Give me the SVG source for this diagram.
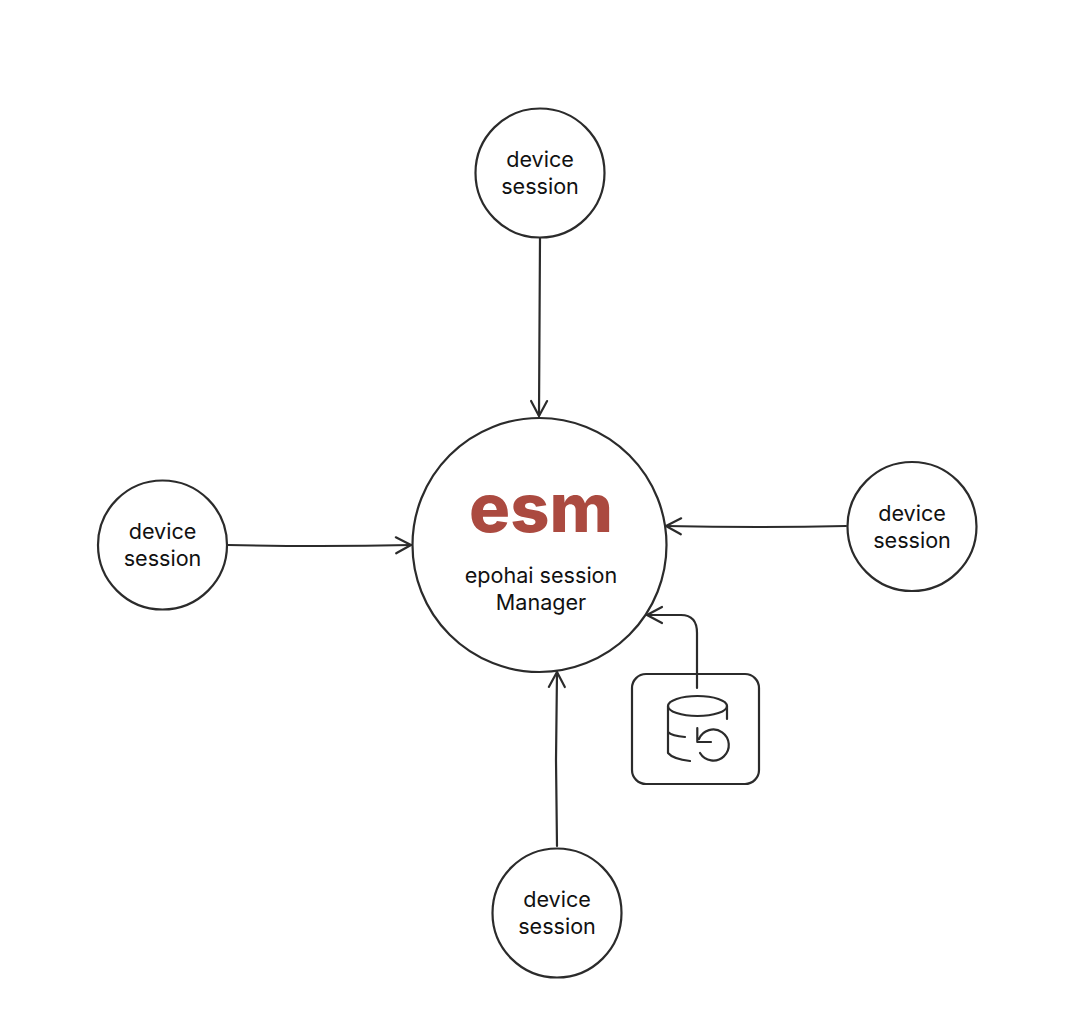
<svg xmlns="http://www.w3.org/2000/svg" width="1092" height="1016" viewBox="0 0 1092 1016">
<style>
.s{fill:none;stroke:#2b2b2b;stroke-width:2.200;stroke-linecap:round;stroke-linejoin:round}
.t{font-family:Inter,"Liberation Sans",sans-serif;font-size:21.600px;fill:#111;text-anchor:middle}
.l{font-family:Inter,"Liberation Sans",sans-serif;font-size:67px;font-weight:800;fill:#ab4a40;text-anchor:middle}
</style>
<defs>
<marker id="a" markerUnits="userSpaceOnUse" markerWidth="24" markerHeight="24" refX="18" refY="12" orient="auto">
<path d="M3 4 L18 12 L3 20" fill="none" stroke="#2b2b2b" stroke-width="2.200" stroke-linecap="round" stroke-linejoin="round"/>
</marker>
</defs>
<rect width="1092" height="1016" fill="#fff"/>
<g id="connectors">
<path class="s" marker-end="url(#a)" d="M540 238 L539 416"/>
<path class="s" marker-end="url(#a)" d="M228 545 Q320 547 411 545"/>
<path class="s" marker-end="url(#a)" d="M846 526 Q760 528 666 526"/>
<path class="s" marker-end="url(#a)" d="M557 846 L556 760 L557 672"/>
<path class="s" marker-end="url(#a)" d="M697 688 L697 633 Q697 615 681 615 L647 615"/>
</g>
<g id="node-top"><circle class="s" cx="540" cy="173" r="64.500"/><text class="t" x="540" y="167">device</text><text class="t" x="540" y="194">session</text></g>
<g id="node-left"><circle class="s" cx="162.500" cy="545" r="64.500"/><text class="t" x="162.500" y="539">device</text><text class="t" x="162.500" y="566">session</text></g>
<g id="node-right"><circle class="s" cx="912" cy="526.500" r="64.500"/><text class="t" x="912" y="521">device</text><text class="t" x="912" y="548">session</text></g>
<g id="node-bottom"><circle class="s" cx="557" cy="913" r="64.500"/><text class="t" x="557" y="907">device</text><text class="t" x="557" y="934">session</text></g>
<g id="manager"><circle class="s" cx="539.500" cy="545" r="127"/><text class="l" x="541" y="531.500" textLength="144" lengthAdjust="spacingAndGlyphs">esm</text><text class="t" x="541" y="583">epohai session</text><text class="t" x="541" y="610">Manager</text></g>
<g id="backup">
<rect class="s" x="632" y="674" width="127" height="110" rx="14"/>
<ellipse class="s" cx="697.500" cy="706" rx="29.500" ry="10"/>
<path class="s" d="M668 706 V753 Q673 759 690 761 M668 732 Q672 736 685 737 M727 706 V719"/>
<path class="s" d="M700 753 A15.500 15.500 0 1 0 699 739 M697.300 728 V742 H711"/>
</g>
</svg>
